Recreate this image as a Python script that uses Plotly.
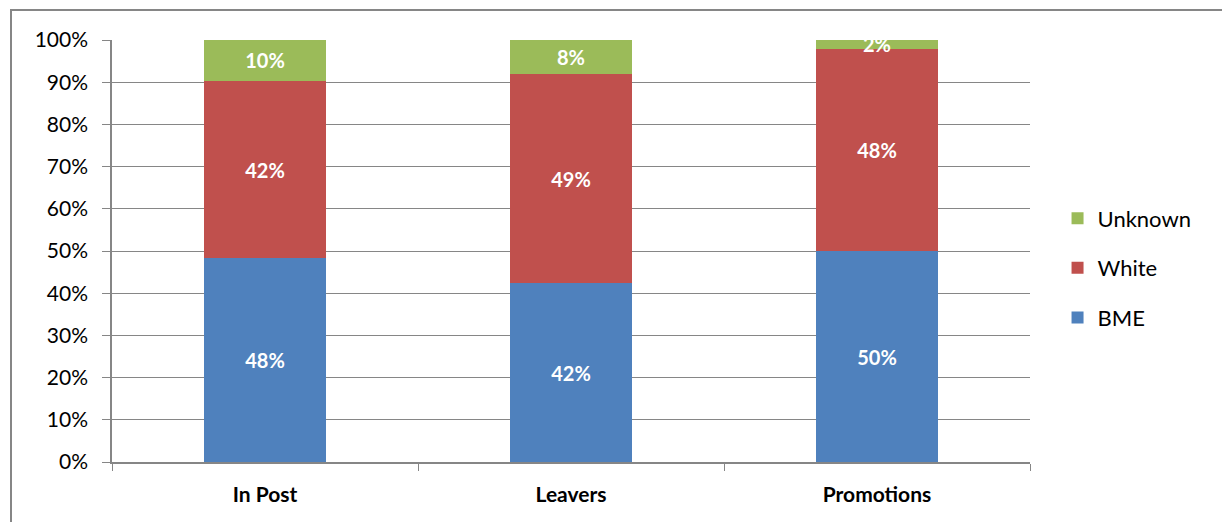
import plotly.graph_objects as go

categories = ["In Post", "Leavers", "Promotions"]
bme = [48.3, 42.4, 50.0]
white = [42.0, 49.5, 47.9]
unknown = [9.7, 8.1, 2.1]
bme_labels = ["48%", "42%", "50%"]
white_labels = ["42%", "49%", "48%"]
unknown_labels = ["10%", "8%", "2%"]
y_ticks = list(range(0, 101, 10))
y_tick_text = [f"{v}%" for v in y_ticks]

FONT = "Lato, 'Open Sans', sans-serif"

fig = go.Figure()
for name, vals, labels, color, rank in [
    ("BME", bme, bme_labels, "#4F81BD", 3),
    ("White", white, white_labels, "#C0504D", 2),
    ("Unknown", unknown, unknown_labels, "#9BBB59", 1),
]:
    fig.add_trace(go.Bar(
        x=categories, y=vals, name=name, text=labels, legendgroup=name,
        legendrank=rank,
        textposition="inside", insidetextanchor="middle",
        textfont=dict(family=FONT, size=20, color="white", weight="bold"),
        marker=dict(color=color, line=dict(width=0)),
        cliponaxis=False,
    ))

fig.update_layout(
    barmode="stack", bargap=0.6,
    width=1222, height=522,
    margin=dict(l=112, r=192, t=40, b=60),
    paper_bgcolor="white", plot_bgcolor="white",
    font=dict(family=FONT, size=21, color="black"),
    uniformtext=dict(minsize=12, mode="show"),
    legend=dict(
        traceorder="grouped", x=1.03, y=0.46, yanchor="middle", xanchor="left",
        font=dict(family=FONT, size=22, color="black"),
        itemwidth=30, tracegroupgap=18, itemsizing="constant",
        bgcolor="rgba(0,0,0,0)",
    ),
    showlegend=True,
)
fig.update_xaxes(
    showgrid=False, showline=True, linecolor="#868686", linewidth=1.5,
    ticks="outside", tickson="boundaries", ticklen=7, tickcolor="#868686",
    tickfont=dict(family=FONT, size=21, color="black", weight="bold"),
    ticklabelstandoff=13,
)
fig.update_yaxes(
    range=[0, 100], tickvals=y_ticks, ticktext=y_tick_text,
    showgrid=True, gridcolor="#868686", gridwidth=1.3,
    showline=True, linecolor="#868686", linewidth=1.5,
    ticks="outside", ticklen=8, tickcolor="#868686",
    tickfont=dict(family=FONT, size=21, color="black"),
    ticklabelstandoff=10, zeroline=False,
)

# outer chart border
fig.add_shape(type="rect", xref="paper", yref="paper",
              x0=(11 - 112) / 918, x1=1.3, y0=-0.3, y1=(462 - 10) / 422,
              line=dict(color="#868686", width=2), fillcolor="rgba(0,0,0,0)",
              layer="below")

fig.write_html("out.html")
